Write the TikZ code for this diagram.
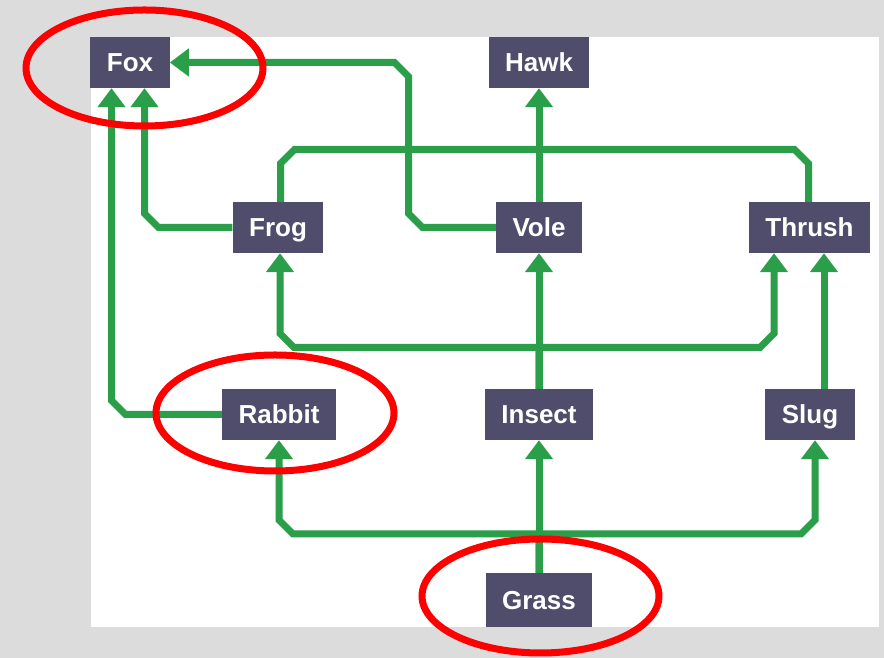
\documentclass[tikz,border=0pt]{standalone}
\usepackage{fontspec}
\setmainfont{Liberation Sans}
\usetikzlibrary{arrows.meta,positioning}
\definecolor{boxgrey}{RGB}{79,77,107}
\definecolor{feedgreen}{RGB}{42,158,72}
\definecolor{paper}{RGB}{220,220,220}

\begin{document}
\begin{tikzpicture}[x = 1pt, y = 1pt,
		animal/.style = {fill = boxgrey, text = white, font = \fontsize{26}{26}\selectfont\bfseries,
			inner xsep = 16.5pt, inner ysep = 0pt, minimum height = 51pt, text height = 18.6pt, text depth = 0pt},
		link/.style = {draw = feedgreen, line width = 7pt},
		feed/.style = {link, -{Triangle[width = 27pt, length = 19pt]}},
		ring/.style = {draw = red, line width = 7pt}]
			\useasboundingbox (0,0) rectangle (884,658);
			\fill[paper] (0,0) rectangle (884,658);
			\fill[white] (91,31) rectangle (879,621);

			\node[animal] (Fox) at (130,595.5) {Fox};
			\node[animal] (Hawk) at (539,595.5) {Hawk};
			\node[animal] (Frog) at (278,430.5) {Frog};
			\node[animal] (Vole) at (539,430.5) {Vole};
			\node[animal] (Thrush) at (809.5,430.5) {Thrush};
			\node[animal] (Rabbit) at (279,243.5) {Rabbit};
			\node[animal] (Insect) at (539,243.5) {Insect};
			\node[animal] (Slug) at (810,243.5) {Slug};
			\node[animal, minimum height = 54pt] (Grass) at (539,58) {Grass};

			\draw[feed] (Rabbit.west) -- (125.5,243.5) -- (111.5,257.5) -- ([xshift=-18.5pt]Fox.south);
			\draw[feed] (Frog.west) -- (158.5,430.5) -- (144.5,444.5) -- ([xshift=14.5pt]Fox.south);
			\draw[feed] (Vole.west) -- (422.5,430.5) -- (408.5,444.5) -- (408.5,581.5) -- (394.5,595.5) -- (Fox.east);
			\path (Vole) edge[feed] (Hawk);
			\draw[link] ([xshift=2.5pt]Frog.north) -- (280.5,494.5) -- (294.5,508.5) -- (794.5,508.5) -- (808.5,494.5) -- ([xshift=-1pt]Thrush.north);

			\path (Insect) edge[feed] (Vole);
			\draw[feed] (Insect.north) -- (539,310.5) -- (294,310.5) -- (280,324.5) -- ([xshift=2pt]Frog.south);
			\draw[feed] (Insect.north) -- (539,310.5) -- (760,310.5) -- (774,324.5) -- ([xshift=-35.5pt]Thrush.south);
			\draw[feed] ([xshift=14pt]Slug.north) -- ([xshift=14.5pt]Thrush.south);

			\path (Grass) edge[feed] (Insect);
			\draw[feed] (Grass.north) -- (539,124) -- (293,124) -- (279,138) -- (Rabbit.south);
			\draw[feed] (Grass.north) -- (539,124) -- (801,124) -- (815,138) -- ([xshift=5pt]Slug.south);

			\draw[ring] ([shift={(14.5,-5.5)}]Fox.center) ellipse [x radius = 118.5, y radius = 58];
			\draw[ring] ([shift={(-4,1.5)}]Rabbit.center) ellipse [x radius = 119, y radius = 58];
			\draw[ring] ([shift={(1.5,4)}]Grass.center) ellipse [x radius = 118.5, y radius = 57];

		\end{tikzpicture}
\end{document}
